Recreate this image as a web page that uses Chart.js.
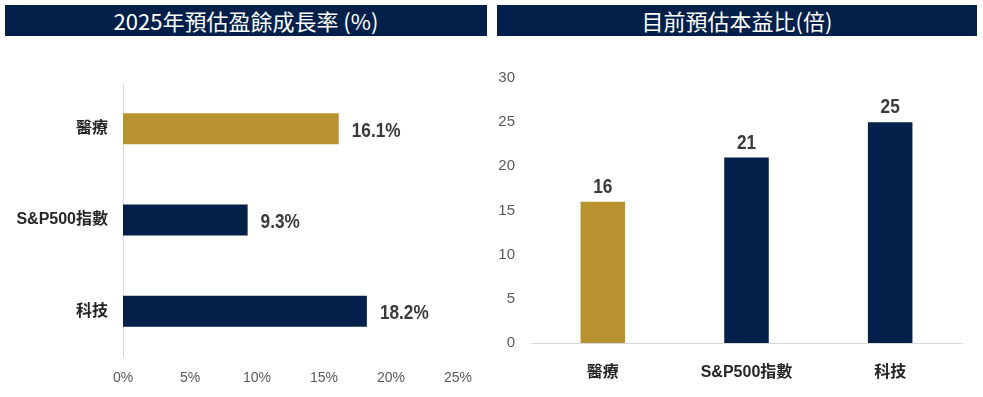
<!DOCTYPE html>
<html><head><meta charset="utf-8">
<script src="https://cdn.jsdelivr.net/npm/chart.js@4/dist/chart.umd.min.js"></script>
<style>
html,body{margin:0;padding:0;background:#fff;width:983px;height:397px;overflow:hidden;}
.bar{position:absolute;top:5px;height:31px;background:#03204a;color:#fff;font-family:"Noto Sans CJK TC","Liberation Sans",sans-serif;font-size:22px;line-height:31px;text-align:center;}
.wrap{position:absolute;top:40px;height:357px;}
</style></head>
<body>
<div class="bar" style="left:5px;width:482px;">2025年預估盈餘成長率 (%)</div>
<div class="bar" style="left:497px;width:480px;">目前預估本益比(倍)</div>
<div class="wrap" style="left:0;width:490px;"><canvas id="c1" width="490" height="357"></canvas></div>
<div class="wrap" style="left:490px;width:493px;"><canvas id="c2" width="493" height="357"></canvas></div>
<script>
const categories = ["醫療", "S&P500指數", "科技"];
const growthValues = [16.1, 9.3, 18.2];
const peValues = [16, 21, 25];
const growthTicks = ["0%", "5%", "10%", "15%", "20%", "25%"];
const peTicks = ["0", "5", "10", "15", "20", "25", "30"];

const GOLD = "#b8922f", NAVY = "#03204a";
const colors = [GOLD, NAVY, NAVY];
const SANS = "'Liberation Sans',sans-serif";
const CATFONT = "'Liberation Sans','Noto Sans CJK TC',sans-serif";
const SQUEEZE = 0.82;

function labelPlugin(horizontal, fmt) {
  return {
    id: 'vlabels',
    afterDatasetsDraw(chart) {
      const ctx = chart.ctx;
      const meta = chart.getDatasetMeta(0);
      const data = chart.data.datasets[0].data;
      meta.data.forEach((el, i) => {
        const t = fmt(data[i]);
        ctx.save();
        ctx.fillStyle = "#3a3a3a";
        ctx.font = "bold 21px " + SANS;
        ctx.textBaseline = "alphabetic";
        if (horizontal) {
          ctx.translate(el.x + 13, el.y + 8);
          ctx.scale(SQUEEZE, 1);
          ctx.textAlign = "left";
        } else {
          ctx.translate(el.x, el.y - 9);
          ctx.scale(SQUEEZE, 1);
          ctx.textAlign = "center";
        }
        ctx.fillText(t, 0, 0);
        ctx.restore();
      });
    }
  };
}

Chart.defaults.animation = false;
Chart.defaults.responsive = false;

new Chart(document.getElementById("c1"), {
  type: "bar",
  data: { labels: categories, datasets: [{ data: growthValues, backgroundColor: colors, barPercentage: 0.34, categoryPercentage: 1 }] },
  options: {
    indexAxis: "y",
    layout: { padding: { top: 43, right: 32, bottom: 8, left: 0 } },
    plugins: { legend: { display: false }, tooltip: { enabled: false } },
    scales: {
      x: {
        min: 0, max: 25,
        grid: { display: false, drawTicks: false },
        border: { display: false },
        ticks: { stepSize: 5, padding: 13, color: "#595959", font: { size: 14, family: SANS },
          callback: (v, i) => growthTicks[i] },
        afterFit: s => { s.height = 32; }
      },
      y: {
        grid: { display: false, drawTicks: false },
        border: { display: true, color: "#d9d9d9", width: 1 },
        ticks: { padding: 15, color: "#262626", font: { size: 16, weight: "bold", family: CATFONT } },
        afterFit: s => { s.width = 123; }
      }
    }
  },
  plugins: [labelPlugin(true, v => v.toFixed(1) + "%")]
});

new Chart(document.getElementById("c2"), {
  type: "bar",
  data: { labels: categories, datasets: [{ data: peValues, backgroundColor: colors, barPercentage: 0.31, categoryPercentage: 1 }] },
  options: {
    layout: { padding: { top: 38, right: 21, bottom: 14, left: 0 } },
    plugins: { legend: { display: false }, tooltip: { enabled: false } },
    scales: {
      y: {
        min: 0, max: 30,
        grid: { display: false, drawTicks: false },
        border: { display: false },
        ticks: { stepSize: 5, padding: 16, color: "#595959", font: { size: 15, family: SANS },
          callback: (v, i) => peTicks[i] },
        afterFit: s => { s.width = 41; }
      },
      x: {
        grid: { display: false, drawTicks: false },
        border: { display: true, color: "#d9d9d9", width: 1 },
        ticks: { padding: 20, color: "#262626", font: { size: 16, weight: "bold", family: CATFONT } },
        afterFit: s => { s.height = 40; }
      }
    }
  },
  plugins: [labelPlugin(false, v => String(v))]
});
</script>
</body></html>
